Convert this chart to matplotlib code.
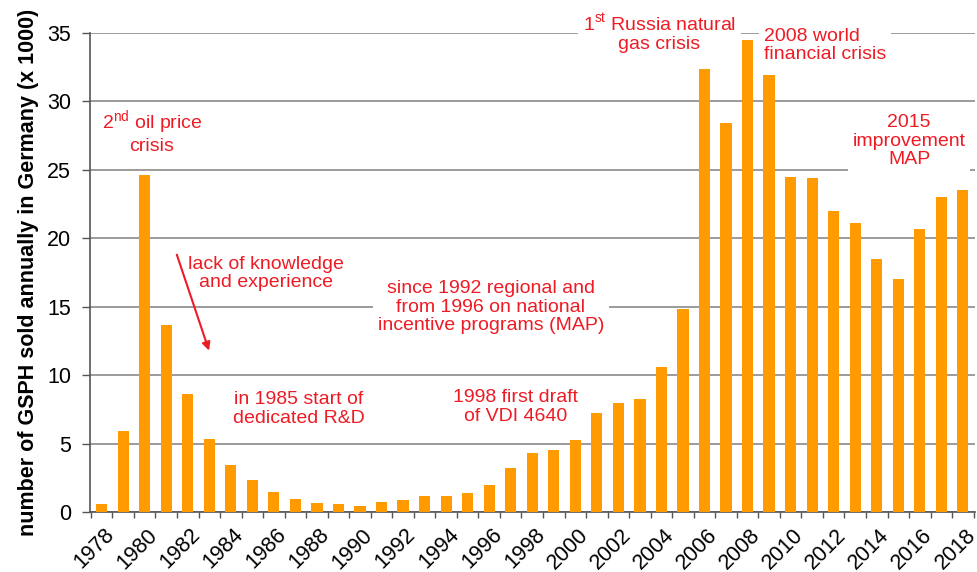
import matplotlib
matplotlib.use("Agg")
import matplotlib.pyplot as plt
import numpy as np

plt.rcParams['font.family'] = ['Liberation Sans', 'DejaVu Sans']
plt.rcParams['mathtext.fontset'] = 'custom'
plt.rcParams['mathtext.rm'] = 'Liberation Sans'

years = list(range(1978, 2019))
# units sold per year, x 1000
sold = [0.55, 5.9, 24.6, 13.7, 8.6, 5.3, 3.4, 2.35, 1.45, 0.97,
        0.66, 0.56, 0.41, 0.75, 0.9, 1.15, 1.15, 1.4, 1.97, 3.24,
        4.28, 4.53, 5.26, 7.26, 8.0, 8.23, 10.57, 14.8, 32.4, 28.4,
        34.5, 31.9, 24.5, 24.4, 22.0, 21.1, 18.5, 17.0, 20.7, 23.0, 23.5]
tick_years = list(range(1978, 2019, 2))
yticks = [0, 5, 10, 15, 20, 25, 30, 35]

RED = '#ee1b24'
ORANGE = '#ff9a00'
GREY = '#8a8a8a'

fig = plt.figure(figsize=(9.77, 5.72), dpi=100)
ax = fig.add_axes([90 / 977, 60 / 572, 884.5 / 977, 479 / 572])

x = np.arange(len(years))
ax.bar(x, sold, width=0.52, color=ORANGE, zorder=3)

ax.set_xlim(-0.54, len(years) - 0.46)
ax.set_ylim(0, 35)
ax.set_yticks(yticks)
ax.yaxis.grid(True, color=GREY, lw=1.2, zorder=0)
ax.set_axisbelow(True)

ax.set_xticks([years.index(y) + 0.1 for y in tick_years])
ax.set_xticklabels([str(y) for y in tick_years], rotation=45, ha='right',
                   rotation_mode='anchor', fontsize=15.5)
ax.tick_params(axis='x', which='major', length=0, pad=9)
ax.set_xticks(np.arange(-0.5, len(years) - 0.4, 1), minor=True)
ax.tick_params(axis='x', which='minor', length=4, color='#555555', width=1)
ax.tick_params(axis='y', length=5.5, color='#555555', width=1, labelsize=15.5, pad=8)

for s in ['top', 'right']:
    ax.spines[s].set_visible(False)
for s in ['left', 'bottom']:
    ax.spines[s].set_color('#555555')
    ax.spines[s].set_linewidth(1.2)

ax.set_ylabel('number of GSPH sold annually in Germany (x 1000)',
              fontsize=15.5, fontweight='bold', labelpad=6)

box = dict(boxstyle='square,pad=0.25', fc='white', ec='none')
kw = dict(color=RED, fontsize=14, zorder=2.5, linespacing=1.1, clip_on=False)

ax.text(2.33, 27.8, '2$^{\\mathrm{nd}}$ oil price\ncrisis', ha='center', va='center', **kw)
ax.text(7.62, 17.45, 'lack of knowledge\nand experience', ha='center', va='center', **kw)
ax.annotate('', xy=(5.03, 11.6), xytext=(3.45, 19.0),
            arrowprops=dict(arrowstyle='-|>', color=RED, lw=1.5, mutation_scale=12))
ax.text(9.17, 7.52, 'in 1985 start of\ndedicated R&D', ha='center', va='center', **kw)
ax.text(18.07, 14.97, 'since 1992 regional and\nfrom 1996 on national\nincentive programs (MAP)',
        ha='center', va='center', bbox=box, **kw)
ax.text(19.22, 7.67, '1998 first draft\nof VDI 4640', ha='center', va='center', **kw)
ax.text(25.9, 35.0, '1$^{\\mathrm{st}}$ Russia natural\ngas crisis', ha='center', va='center',
        bbox=box, **kw)
ax.text(30.78, 34.1, '2008 world\nfinancial crisis', ha='left', va='center', bbox=box, **kw)
ax.text(37.5, 27.1, '2015\nimprovement\nMAP', ha='center', va='center', bbox=box, **kw)

fig.savefig('out.png', dpi=100)
